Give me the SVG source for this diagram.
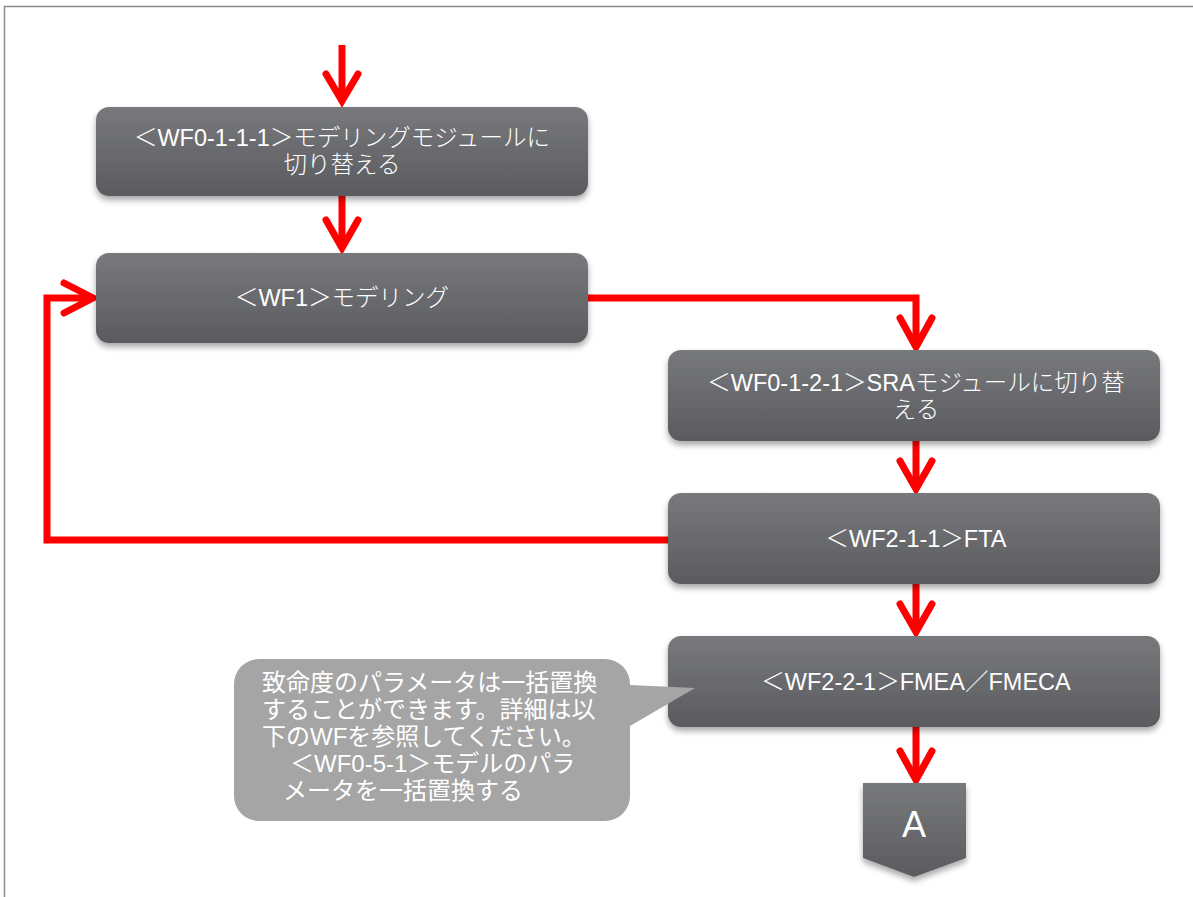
<svg xmlns="http://www.w3.org/2000/svg" width="1193" height="897" viewBox="0 0 1193 897">
<defs>
<linearGradient id="ng" x1="0" y1="0" x2="0" y2="1">
<stop offset="0" stop-color="#78797c"/>
<stop offset="1" stop-color="#5a5b5f"/>
</linearGradient>
<filter id="sh" x="-5%" y="-10%" width="110%" height="130%">
<feGaussianBlur in="SourceAlpha" stdDeviation="3"/>
<feOffset dy="4" result="b"/>
<feComponentTransfer><feFuncA type="linear" slope="0.35"/></feComponentTransfer>
<feMerge><feMergeNode/><feMergeNode in="SourceGraphic"/></feMerge>
</filter>
<style>
.node{fill:url(#ng);filter:url(#sh)}
.t{font-family:"Liberation Sans","Noto Sans CJK JP",sans-serif;font-size:23.5px;font-weight:300;fill:#ffffff;text-anchor:middle}
.ct{font-family:"Liberation Sans","Noto Sans CJK JP",sans-serif;font-size:24px;fill:#ffffff}
.wire{fill:none;stroke:#ff0000;stroke-width:7}
.head{fill:none;stroke:#ff0000;stroke-width:7;stroke-linecap:round;stroke-linejoin:miter}
</style>
</defs>
<rect x="4.5" y="6.5" width="1200" height="900" fill="#ffffff" stroke="#8c8c8c" stroke-width="1.5"/>
<g id="connectors">
<path class="wire" d="M342 45 V100"/>
<path class="head" d="M326 74 L342 101 L358 74"/>
<path class="wire" d="M342 196 V248"/>
<path class="head" d="M326 220 L342 248 L358 220"/>
<path class="wire" d="M588 298 H916 V346"/>
<path class="head" d="M900 318 L916 347 L932 318"/>
<path class="wire" d="M916 441 V489"/>
<path class="head" d="M900 461 L916 489 L932 461"/>
<path class="wire" d="M668 540 H47 V298 H92"/>
<path class="head" d="M64 283 L93 298 L64 313"/>
<path class="wire" d="M916 584 V632"/>
<path class="head" d="M900 604 L916 632 L932 604"/>
<path class="wire" d="M916 727 V780"/>
<path class="head" d="M900 751 L916 780 L932 751"/>
</g>
<g id="n1">
<rect class="node" x="96" y="107" width="492" height="89" rx="13"/>
<text class="t" x="342" y="146">＜WF0-1-1-1＞モデリングモジュールに</text>
<text class="t" x="342" y="173">切り替える</text>
</g>
<g id="n2">
<rect class="node" x="96" y="253" width="492" height="90" rx="13"/>
<text class="t" x="342" y="306">＜WF1＞モデリング</text>
</g>
<g id="n3">
<rect class="node" x="668" y="350" width="492" height="91" rx="13"/>
<text class="t" x="916" y="391">＜WF0-1-2-1＞SRAモジュールに切り替</text>
<text class="t" x="916" y="418">える</text>
</g>
<g id="n4">
<rect class="node" x="668" y="493" width="492" height="91" rx="13"/>
<text class="t" x="916" y="547">＜WF2-1-1＞FTA</text>
</g>
<g id="n5">
<rect class="node" x="668" y="636" width="492" height="91" rx="13"/>
<text class="t" x="916" y="690">＜WF2-2-1＞FMEA／FMECA</text>
</g>
<g id="callout">
<path d="M259 659 H605 A25 25 0 0 1 630 684 V685 L695 688 L630 726 V796 A25 25 0 0 1 605 821 H259 A25 25 0 0 1 234 796 V684 A25 25 0 0 1 259 659 Z" fill="#a5a5a5"/>
<text class="ct" x="262" y="691">致命度のパラメータは一括置換</text>
<text class="ct" x="262" y="718">することができます。詳細は以</text>
<text class="ct" x="262" y="745">下のWFを参照してください。</text>
<text class="ct" x="290" y="772">＜WF0-5-1＞モデルのパラ</text>
<text class="ct" x="283" y="799">メータを一括置換する</text>
</g>
<g id="offpage">
<path class="node" d="M863 783 H966 V858 L914 877 L863 858 Z"/>
<text x="914" y="837" style="font-size:36px;font-family:'Liberation Sans',sans-serif;fill:#ffffff;text-anchor:middle">A</text>
</g>
</svg>
